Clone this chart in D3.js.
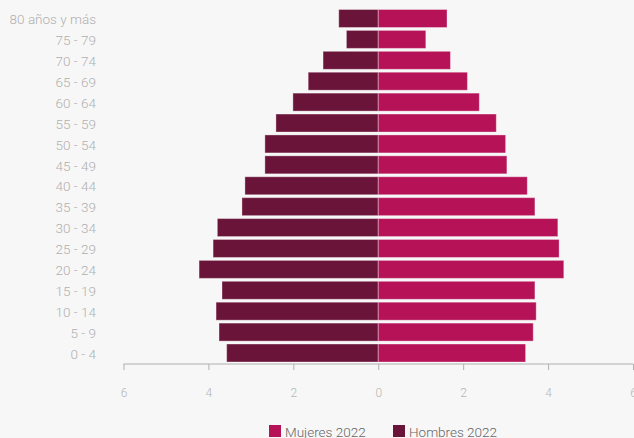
<html>
<head>
<meta charset="utf-8">
<script src="https://d3js.org/d3.v7.min.js"></script>
<style>
  body { margin: 0; background: #f7f7f7; font-family: Roboto, sans-serif; }
  .axis text { fill: #b5b5b5; font-size: 12px; font-family: Roboto; font-weight: 300; }
  .axis path, .axis line { stroke: #b0b0b0; }
  .cat { fill: #b0b0b0; font-size: 13.5px; font-weight: 300; }
</style>
</head>
<body>
<svg width=634 height=438></svg>
<script>
var grupos = ["80 años y más", "75 - 79", "70 - 74", "65 - 69", "60 - 64", "55 - 59", "50 - 54",
  "45 - 49", "40 - 44", "35 - 39", "30 - 34", "25 - 29", "20 - 24", "15 - 19", "10 - 14", "5 - 9", "0 - 4"];
var mujeres = [1.62, 1.12, 1.70, 2.10, 2.38, 2.78, 3.00, 3.03, 3.51, 3.69, 4.23, 4.26, 4.37, 3.69, 3.72, 3.65, 3.47];
var hombres = [0.93, 0.75, 1.30, 1.65, 2.01, 2.41, 2.67, 2.67, 3.14, 3.21, 3.79, 3.89, 4.22, 3.68, 3.82, 3.75, 3.57];
var ticks = [-6, -4, -2, 0, 2, 4, 6];

var svg = d3.select("svg");

var x = d3.scaleLinear()
    .domain([-6, 6])
    .range([123.5, 633]);

var y = d3.scaleBand()
    .domain(grupos)
    .range([9.5, 362])
    .paddingInner(0.14)
    .paddingOuter(0);

// hombres a la izquierda
svg.append("g").selectAll("rect")
    .data(hombres)
    .enter().append("rect")
    .attr("x", function(d) { return x(-d); })
    .attr("y", function(d, i) { return y(grupos[i]); })
    .attr("width", function(d) { return x(0) - x(-d); })
    .attr("height", y.bandwidth())
    .style("fill", "#6a1439")
    .style("stroke", "rgba(255,255,255,0.35)")
    .style("stroke-width", 1);

svg.append("g").selectAll("rect")
    .data(mujeres)
    .enter().append("rect")
    .attr("x", x(0))
    .attr("y", function(d, i) { return y(grupos[i]); })
    .attr("width", function(d) { return x(d) - x(0); })
    .attr("height", y.bandwidth())
    .style("fill", "#b51257")
    .style("stroke", "rgba(255,255,255,0.35)")
    .style("stroke-width", 1);

// etiquetas de grupos
svg.append("g").selectAll("text")
    .data(grupos)
    .enter().append("text")
    .attr("class", "cat")
    .attr("x", 96)
    .attr("y", function(d) { return y(d) + y.bandwidth() / 2 + 1; })
    .attr("dy", "0.35em")
    .attr("text-anchor", "end")
    .text(function(d) { return d; });

svg.append("g")
    .attr("class", "axis")
    .attr("transform", "translate(0,364)")
    .call(d3.axisBottom(x)
        .tickValues(ticks)
        .tickSize(6)
        .tickPadding(18)
        .tickFormat(function(d) { return Math.abs(d); }))
    .call(function(g) { g.select(".domain").attr("d", "M" + x(-6) + ",0H" + x(6)); });

// leyenda
var leyenda = [["Mujeres 2022", "#b51257", 269], ["Hombres 2022", "#6a1439", 393]];
leyenda.forEach(function(l) {
    svg.append("rect").attr("x", l[2]).attr("y", 425).attr("width", 12).attr("height", 12).style("fill", l[1]);
    svg.append("text").attr("x", l[2] + 16).attr("y", 437).text(l[0])
        .style("font-size", "13.5px").style("fill", "#666").style("font-weight", 300);
});
</script>
</body>
</html>
